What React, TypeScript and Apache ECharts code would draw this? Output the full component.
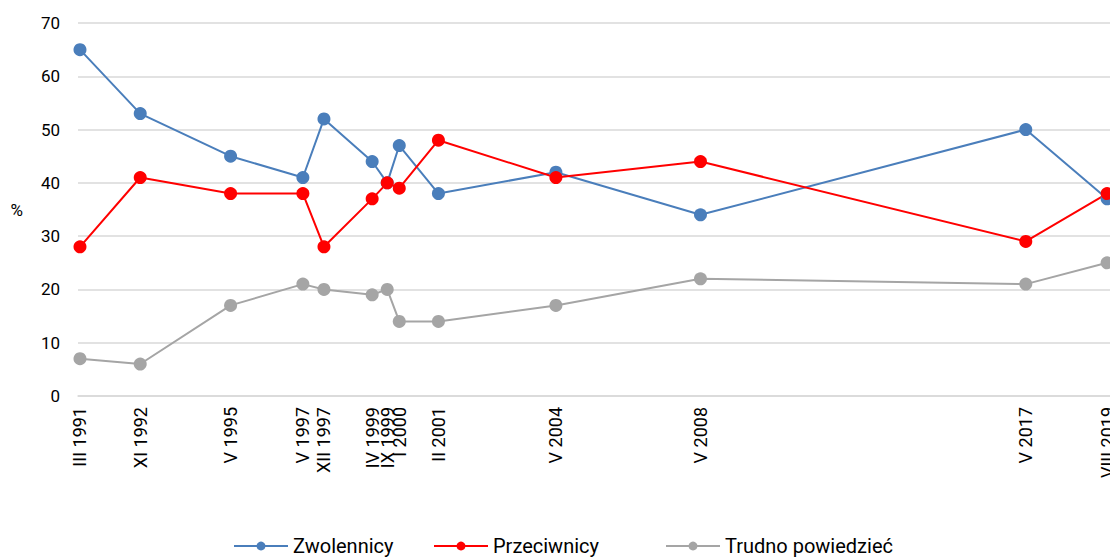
import React, { useEffect, useRef } from "react";
import * as echarts from "echarts";

const labels = ["III 1991", "XI 1992", "V 1995", "V 1997", "XII 1997", "IV 1999", "IX 1999", "I 2000", "II 2001", "V 2004", "V 2008", "V 2017", "VIII 2019"];
const years = [1991, 1992, 1995, 1997, 1997, 1999, 1999, 2000, 2001, 2004, 2008, 2017, 2019];
const months = [3, 11, 5, 5, 12, 4, 9, 1, 2, 5, 5, 5, 8];
const zwolennicy = [65, 53, 45, 41, 52, 44, 40, 47, 38, 42, 34, 50, 37];
const przeciwnicy = [28, 41, 38, 38, 28, 37, 40, 39, 48, 41, 44, 29, 38];
const trudno = [7, 6, 17, 21, 20, 19, 20, 14, 14, 17, 22, 21, 25];
const yTicks = [0, 10, 20, 30, 40, 50, 60, 70];
const seriesNames = ["Zwolennicy", "Przeciwnicy", "Trudno powiedzieć"];

const xs = years.map((y, i) => y + (months[i] - 1) / 12);

export default function App() {
  const ref = useRef<HTMLDivElement>(null);
  useEffect(() => {
    document.body.style.margin = "0";
    const chart = echarts.init(ref.current!, null, { renderer: "svg" });
    const font = "Roboto, 'Noto Sans', sans-serif";
    const mk = (name: string, data: number[], color: string) => ({
      name,
      type: "line",
      data: data.map((v, i) => [xs[i], v]),
      symbol: "circle",
      symbolSize: 13,
      lineStyle: { color, width: 2 },
      itemStyle: { color },
      emphasis: { disabled: true },
    });
    const legendLefts = [233, 433, 665];
    chart.setOption({
      animation: false,
      textStyle: { fontFamily: font },
      grid: { left: 78, right: 0, top: 23, bottom: 162, outerBoundsMode: "none" },
      legend: seriesNames.map((n, i) => ({
        bottom: 2,
        left: legendLefts[i],
        padding: 0,
        itemWidth: 54,
        itemHeight: 11,
        itemGap: 4,
        textStyle: { fontSize: 20, color: "#000", fontFamily: font },
        data: [n],
      })),
      xAxis: {
        type: "value",
        min: xs[0] - 0.055,
        max: xs[xs.length - 1] + 0.08,
        splitLine: { show: false },
        axisTick: { show: false },
        axisLine: { show: true, lineStyle: { color: "#d9d9d9", width: 1.5 } },
        axisLabel: {
          customValues: xs,
          rotate: 90,
          margin: 11,
          fontSize: 18,
          color: "#000",
          fontFamily: font,
          formatter: (v: number) => {
            let best = 0;
            xs.forEach((x, i) => {
              if (Math.abs(x - v) < Math.abs(xs[best] - v)) best = i;
            });
            return labels[best];
          },
        },
      },
      yAxis: {
        type: "value",
        min: yTicks[0],
        max: yTicks[yTicks.length - 1],
        interval: 10,
        name: "%",
        nameLocation: "middle",
        nameRotate: 0,
        nameGap: 55,
        nameTextStyle: { fontSize: 17, color: "#000", fontFamily: font },
        axisLine: { show: false },
        axisTick: { show: false },
        axisLabel: { fontSize: 17, color: "#000", margin: 18, fontFamily: font },
        splitLine: { lineStyle: { color: "#d9d9d9", width: 1.5 } },
      },
      series: [
        mk(seriesNames[0], zwolennicy, "#4a7ebb"),
        mk(seriesNames[1], przeciwnicy, "#ff0000"),
        mk(seriesNames[2], trudno, "#a5a5a5"),
      ],
    });
    return () => chart.dispose();
  }, []);
  return <div ref={ref} style={{ width: 1110, height: 558 }} />;
}
